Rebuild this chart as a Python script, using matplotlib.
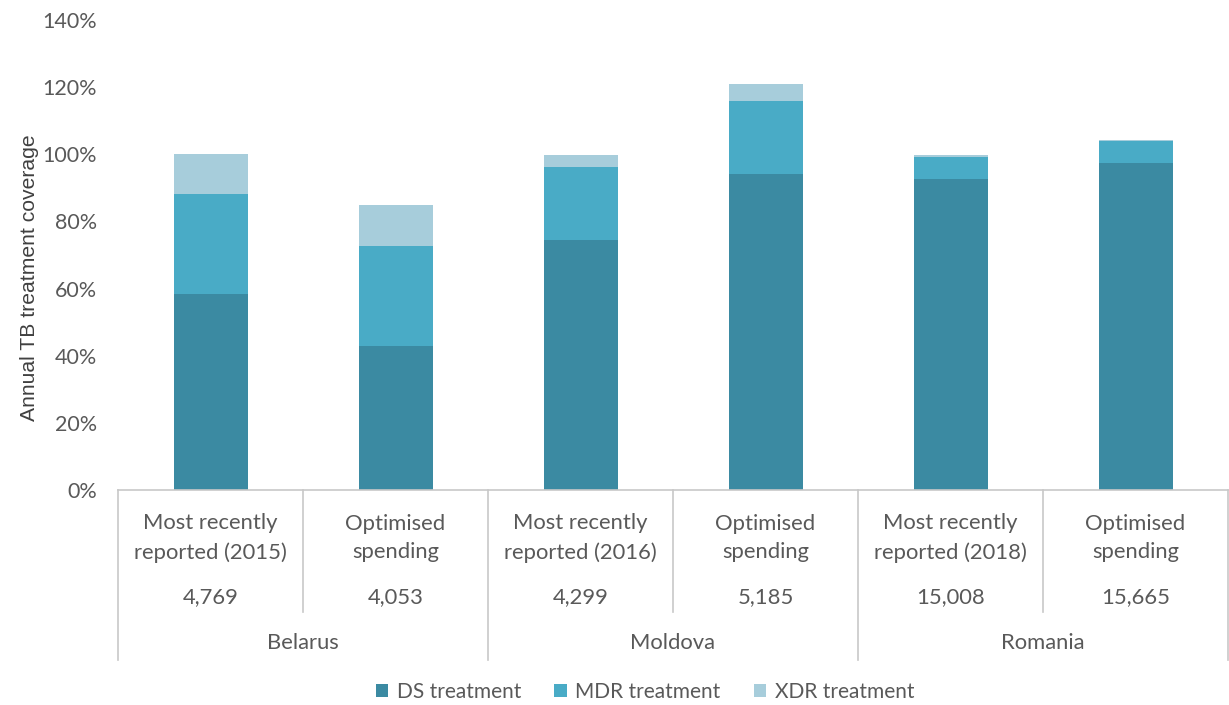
import numpy as np
import matplotlib
matplotlib.use("Agg")
import matplotlib.pyplot as plt
from matplotlib.transforms import blended_transform_factory
from matplotlib.ticker import PercentFormatter

# data (percent of annual TB treatment need)
scenarios = ["Most recently\nreported (2015)", "Optimised\nspending",
             "Most recently\nreported (2016)", "Optimised\nspending",
             "Most recently\nreported (2018)", "Optimised\nspending"]
people_treated = ["4,769", "4,053", "4,299", "5,185", "15,008", "15,665"]
countries = ["Belarus", "Moldova", "Romania"]
ds_treatment = [58.5, 42.9, 74.5, 94.2, 92.7, 97.4]
mdr_treatment = [29.7, 29.9, 21.7, 21.8, 6.5, 6.6]
xdr_treatment = [11.8, 12.2, 3.7, 4.9, 0.7, 0.4]

colors = ["#3b8aa2", "#49abc6", "#a7cddb"]
grey = "#595959"
line_c = "#c8c8c8"
font = ["Lato", "DejaVu Sans"]

fig = plt.figure(figsize=(12.29, 7.05), dpi=100)
W, H = 1229, 705
ax = fig.add_axes([118 / W, 1 - 490 / H, 1110 / W, 470 / H])

x = np.arange(len(scenarios))
ds = np.array(ds_treatment)
mdr = np.array(mdr_treatment)
xdr = np.array(xdr_treatment)
ax.bar(x, ds, 0.4, color=colors[0], label="DS treatment")
ax.bar(x, mdr, 0.4, bottom=ds, color=colors[1], label="MDR treatment")
ax.bar(x, xdr, 0.4, bottom=ds + mdr, color=colors[2], label="XDR treatment")

ax.set_xlim(-0.5, len(scenarios) - 0.5)
ax.set_ylim(0, 140)
ax.set_yticks(np.arange(0, 141, 20))
ax.yaxis.set_major_formatter(PercentFormatter(decimals=0))
ax.tick_params(axis="y", length=0, pad=15, labelsize=15.5, labelcolor=grey)
for lab in ax.get_yticklabels():
    lab.set_family(font)
ax.set_xticks([])
for s in ax.spines.values():
    s.set_visible(False)

# hierarchical category axis below the bars
tr = blended_transform_factory(ax.transData, fig.transFigure)
def fy(py):
    return 1 - py / H

ax.plot([-0.5, 5.5], [fy(490), fy(490)], transform=tr, color=line_c, lw=1.2, clip_on=False)
for i in range(len(scenarios) + 1):
    b = i - 0.5
    bottom = 660 if i % 2 == 0 else 612
    ax.plot([b, b], [fy(490), fy(bottom)], transform=tr, color=line_c, lw=1.2, clip_on=False)

for i, (lab, n) in enumerate(zip(scenarios, people_treated)):
    ax.text(i, fy(538), lab, transform=tr, ha="center", va="center", fontsize=15.8,
            color=grey, family=font, linespacing=1.55)
    ax.text(i, fy(597), n, transform=tr, ha="center", va="center", fontsize=15.8,
            color=grey, family=font)
for j, c in enumerate(countries):
    ax.text(2 * j + 0.5, fy(643), c, transform=tr, ha="center", va="center", fontsize=15.8,
            color=grey, family=font)

fig.text(30 / W, fy(278), "Annual TB treatment coverage", rotation=90, ha="center", va="center",
         fontsize=15.2, color="#404040", family=["Liberation Sans", "DejaVu Sans"])

handles, labels = ax.get_legend_handles_labels()
leg = fig.legend(handles, labels, loc="center", bbox_to_anchor=(645 / W, fy(692)), ncol=3,
                 frameon=False, handlelength=0.6, handleheight=0.6, handletextpad=0.4,
                 columnspacing=1.6, prop={"family": font, "size": 15})
for t in leg.get_texts():
    t.set_color(grey)

fig.savefig("out.png", dpi=100)
